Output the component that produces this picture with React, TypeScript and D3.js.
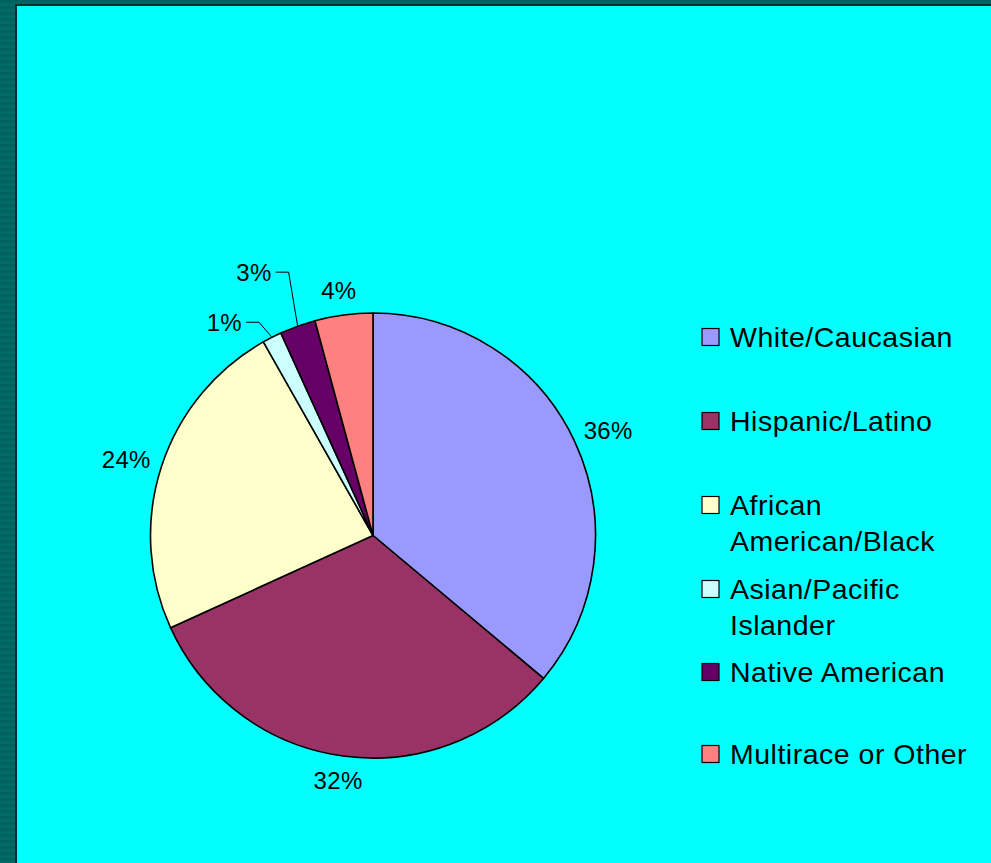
import React from "react";
import * as d3 from "d3";

const categories = [
  "White/Caucasian",
  "Hispanic/Latino",
  "African American/Black",
  "Asian/Pacific Islander",
  "Native American",
  "Multirace or Other",
];
const values = [36.1, 32.1, 23.6, 1.4, 2.6, 4.2];
const colors = ["#9999FF", "#993366", "#FFFFCC", "#CCFFFF", "#660066", "#FF8080"];
const legendLines = [
  ["White/Caucasian"],
  ["Hispanic/Latino"],
  ["African", "American/Black"],
  ["Asian/Pacific", "Islander"],
  ["Native American"],
  ["Multirace or Other"],
];
// slices whose labels are pulled out with leader lines: [dx, dy] from the arc edge
const leaderOffsets: Record<string, [number, number]> = {
  "Asian/Pacific Islander": [-28, -15],
  "Native American": [-24, -54],
};

const W = 991;
const H = 863;
const cx = 373;
const cy = 535.5;
const R = 222.5;

export default function App() {
  const data = categories.map((c, i) => ({ c, v: values[i], color: colors[i] }));
  const pie = d3.pie<any>().value((d) => d.v).sort(null);
  const arcs = pie(data);
  const arc = d3.arc<any>().innerRadius(0).outerRadius(R);
  const font = "'Liberation Sans', Arial, sans-serif";

  const legendRows = [337, 421, 505, 589, 672, 754];

  return (
    <div style={{ position: "absolute", left: 0, top: 0 }}>
      <svg width={W} height={H} style={{ display: "block" }}>
        <defs>
          <pattern id="stripes" width="6" height="6" patternUnits="userSpaceOnUse">
            <rect width="6" height="6" fill="#006A66" />
            <rect width="6" height="3" fill="#00625F" />
          </pattern>
        </defs>
        <rect width={W} height={H} fill="url(#stripes)" />
        <rect x={15} y={4} width={W - 15} height={H - 4} fill="#002E2E" />
        <rect x={17} y={6} width={W - 17} height={H - 6} fill="#00FFFF" />
        <g transform={`translate(${cx},${cy})`}>
          {arcs.map((a, i) => (
            <path key={i} d={arc(a) as string} fill={a.data.color} stroke="#000" strokeWidth={1.6} strokeLinejoin="round" />
          ))}
          {arcs.map((a, i) => {
            const ang = (a.startAngle + a.endAngle) / 2;
            const s = Math.sin(ang);
            const c = Math.cos(ang);
            const label = `${Math.round(a.data.v)}%`;
            const off = leaderOffsets[a.data.c];
            if (off) {
              const ex = R * s;
              const ey = -R * c;
              const lx = ex + off[0];
              const ly = ey + off[1];
              return (
                <g key={i}>
                  <polyline
                    points={`${lx + 2},${ly} ${ex + off[0] + 15},${ly} ${ex},${ey}`}
                    fill="none"
                    stroke="#000"
                    strokeWidth={1}
                  />
                  <text x={lx - 2} y={ly + 8.5} textAnchor="end" fontFamily={font} fontSize={24} letterSpacing={0.3} fill="#000">
                    {label}
                  </text>
                </g>
              );
            }
            const rr = R + 13;
            const x = rr * s + s * 24;
            const y = -rr * c - c * 12;
            return (
              <text key={i} x={x} y={y + 8.5} textAnchor="middle" fontFamily={font} fontSize={24} letterSpacing={0.3} fill="#000">
                {label}
              </text>
            );
          })}
        </g>
        <g>
          {data.map((d, i) => (
            <g key={i}>
              <rect x={702} y={legendRows[i] - 8.5} width={17} height={17} fill={d.color} stroke="#000" strokeWidth={1.2} />
              {legendLines[i].map((ln, j) => (
                <text key={j} x={730} y={legendRows[i] + 9.5 + j * 36} fontFamily={font} fontSize={28.5} letterSpacing={0.5} fill="#000">
                  {ln}
                </text>
              ))}
            </g>
          ))}
        </g>
      </svg>
    </div>
  );
}
